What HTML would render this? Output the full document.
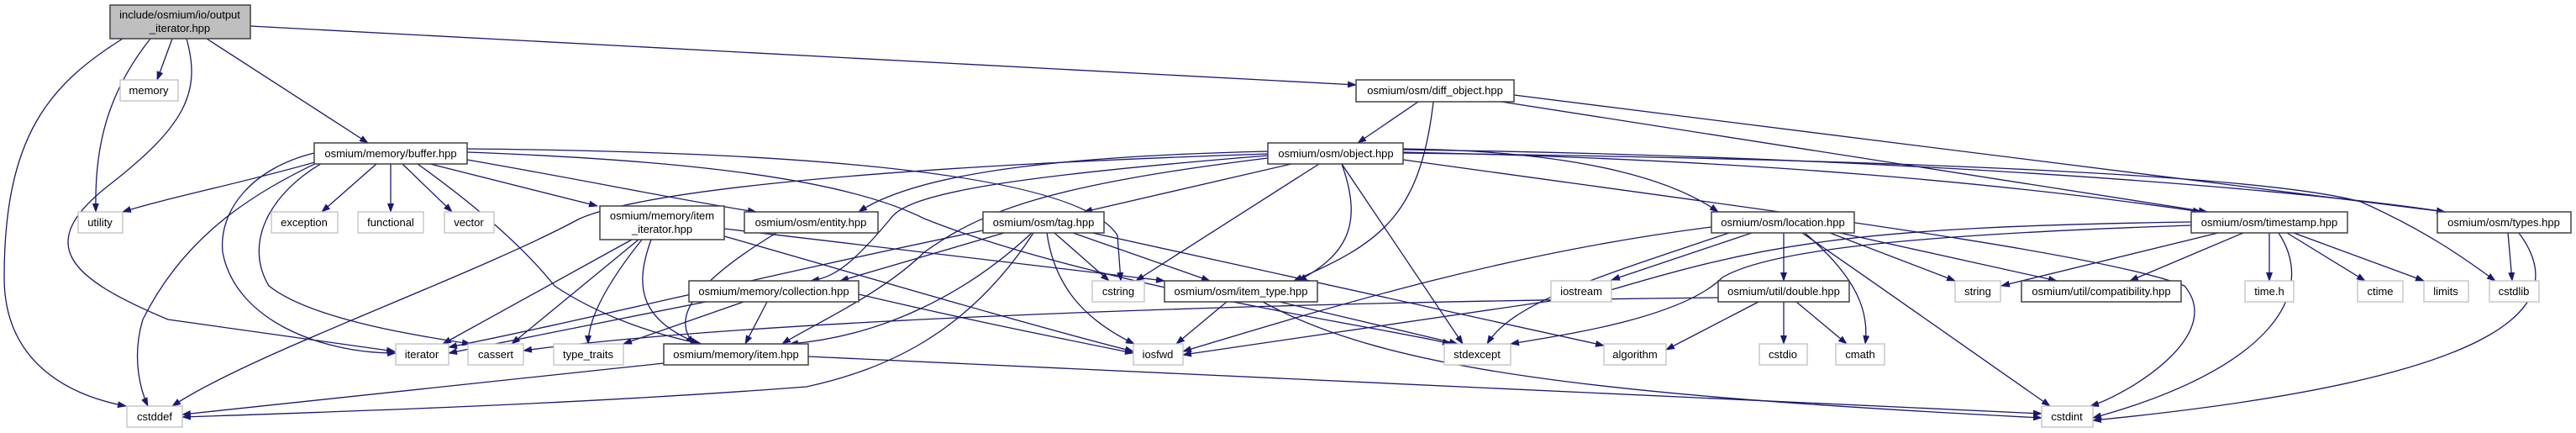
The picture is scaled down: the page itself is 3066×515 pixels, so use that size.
<!DOCTYPE html>
<html><head><meta charset="utf-8"><style>
html,body{margin:0;padding:0;background:#fff;}
svg{display:block;}
text{font-family:"Liberation Sans",sans-serif;font-size:13px;fill:#000;}
.e{fill:none;stroke:#191970;stroke-width:1.3;marker-end:url(#a);}
.n{fill:#fff;stroke:#404040;stroke-width:1.5;}
.g{fill:#fff;stroke:#c0c0c0;stroke-width:1.3;}
</style></head><body>
<svg width="3066" height="515" viewBox="0 0 3066 515" xmlns="http://www.w3.org/2000/svg">
<defs><marker id="a" markerWidth="11" markerHeight="8" refX="10" refY="4" orient="auto" markerUnits="userSpaceOnUse"><path d="M0,0 L11,4 L0,8 Z" fill="#191970"/></marker></defs>
<g>
<path class="e" d="M146,46 C60,100 5,160 5,330 C5,430 80,470 150,483"/>
<path class="e" d="M179,46 C120,120 113,190 114,252"/>
<path class="e" d="M205,46 L187,95"/>
<path class="e" d="M222,46 C240,110 220,150 130,220 C40,290 80,330 200,380 L470,418"/>
<path class="e" d="M246,46 L438,170"/>
<path class="e" d="M298,31 L1614,101"/>
<path class="e" d="M1688,121 L1616,170"/>
<path class="e" d="M1706,121 C1690,260 1640,290 1540,334"/>
<path class="e" d="M1787,121 L2627,252"/>
<path class="e" d="M1802,113 L2910,252"/>
<path class="e" d="M385,190 C300,215 200,235 146,252"/>
<path class="e" d="M448,195 L383,252"/>
<path class="e" d="M465,195 L465,252"/>
<path class="e" d="M479,195 L538,252"/>
<path class="e" d="M512,195 L711,245"/>
<path class="e" d="M556,190 C700,215 820,240 900,252"/>
<path class="e" d="M385,190 C300,230 220,280 170,380 C155,430 170,470 176,483"/>
<path class="e" d="M374,182 C300,200 260,250 265,300 C280,380 380,420 471,420"/>
<path class="e" d="M385,193 C320,230 290,290 320,340 C370,380 500,400 560,409"/>
<path class="e" d="M497,195 C560,240 620,290 660,340 C720,380 790,400 835,409"/>
<path class="e" d="M556,177 C900,180 1280,200 1330,280 L1334,334"/>
<path class="e" d="M556,181 C800,190 1000,210 1100,260 C1300,340 1650,390 1727,409"/>
<path class="e" d="M1509,180 C1300,185 1100,200 1022,252"/>
<path class="e" d="M1537,195 L1290,252"/>
<path class="e" d="M1509,185 C1200,210 1080,230 1060,260 C1010,320 990,330 965,334"/>
<path class="e" d="M1509,188 C1250,220 1170,250 1100,300 C1050,350 960,390 931,409"/>
<path class="e" d="M1509,183 C1000,200 760,230 690,260 C560,330 300,420 205,483"/>
<path class="e" d="M1570,195 L1352,334"/>
<path class="e" d="M1597,195 C1620,260 1610,300 1545,334"/>
<path class="e" d="M1597,195 L1741,409"/>
<path class="e" d="M1670,177 C1900,180 2000,220 2045,252"/>
<path class="e" d="M1670,181 C2100,190 2400,220 2620,252"/>
<path class="e" d="M1670,178 C2200,185 2700,220 2910,252"/>
<path class="e" d="M1670,182 C2300,190 2700,210 2810,240 C2900,280 2950,320 2970,334"/>
<path class="e" d="M1670,190 C2100,250 2500,300 2600,340 C2650,400 2530,470 2488,483"/>
<path class="e" d="M752,285 L527,409"/>
<path class="e" d="M760,285 L609,409"/>
<path class="e" d="M764,285 C720,340 700,380 700,409"/>
<path class="e" d="M775,285 C755,340 760,380 832,409"/>
<path class="e" d="M862,272 L1386,334"/>
<path class="e" d="M862,281 C1000,320 1200,380 1349,418"/>
<path class="e" d="M924,277 C820,340 800,380 826,409"/>
<path class="e" d="M1170,274 C900,330 700,380 534,413"/>
<path class="e" d="M1195,277 L1000,334"/>
<path class="e" d="M1228,277 C1150,350 1050,400 940,409"/>
<path class="e" d="M1230,277 C1150,400 1050,440 960,460 C700,480 400,490 217,496"/>
<path class="e" d="M1255,277 L1320,334"/>
<path class="e" d="M1277,277 L1440,334"/>
<path class="e" d="M1246,277 C1255,340 1290,380 1350,409"/>
<path class="e" d="M1300,277 L1909,411"/>
<path class="e" d="M840,359 L534,420"/>
<path class="e" d="M885,359 L742,409"/>
<path class="e" d="M913,359 L887,409"/>
<path class="e" d="M1022,350 C1150,380 1250,400 1349,420"/>
<path class="e" d="M1460,359 L1400,409"/>
<path class="e" d="M1523,359 L1735,409"/>
<path class="e" d="M1503,359 C1650,440 1900,470 2430,497"/>
<path class="e" d="M790,432 L217,493"/>
<path class="e" d="M962,424 L2430,492"/>
<path class="e" d="M2037,270 C1800,300 1600,360 1408,418"/>
<path class="e" d="M2058,277 C1900,330 1800,360 1770,409"/>
<path class="e" d="M2085,277 L1918,333"/>
<path class="e" d="M2123,277 L2123,334"/>
<path class="e" d="M2178,277 L2327,334"/>
<path class="e" d="M2190,277 L2448,334"/>
<path class="e" d="M2145,277 C2250,350 2380,440 2440,483"/>
<path class="e" d="M2148,277 C2210,330 2225,370 2220,409"/>
<path class="e" d="M2045,354 C1500,360 900,380 623,417"/>
<path class="e" d="M2123,359 L2123,409"/>
<path class="e" d="M2138,359 L2198,409"/>
<path class="e" d="M2093,359 L1983,416"/>
<path class="e" d="M2608,268 C2250,280 2100,300 2050,330 C2000,380 1850,400 1798,409"/>
<path class="e" d="M2608,264 C2200,270 2100,290 1900,350 L1408,422"/>
<path class="e" d="M2640,277 L2382,340"/>
<path class="e" d="M2670,277 L2535,334"/>
<path class="e" d="M2701,277 L2701,334"/>
<path class="e" d="M2712,277 C2760,350 2700,440 2491,497"/>
<path class="e" d="M2722,277 L2815,334"/>
<path class="e" d="M2730,277 L2885,334"/>
<path class="e" d="M2985,277 L2990,334"/>
<path class="e" d="M2998,277 C3060,360 3000,450 2491,500"/>
</g>
<g>
<rect x="131" y="6" width="167" height="40" fill="#bfbfbf" stroke="#404040" stroke-width="1.5"/>
<text x="214" y="22" text-anchor="middle">include/osmium/io/output</text>
<text x="214" y="38" text-anchor="middle">_iterator.hpp</text>

<rect class="g" x="143" y="95" width="69" height="25"/><text x="177" y="112" text-anchor="middle">memory</text>
<rect class="n" x="1614" y="95" width="188" height="26"/><text x="1708" y="112" text-anchor="middle">osmium/osm/diff_object.hpp</text>

<rect class="n" x="374" y="170" width="182" height="25"/><text x="465" y="187" text-anchor="middle">osmium/memory/buffer.hpp</text>
<rect class="n" x="1509" y="170" width="161" height="25"/><text x="1590" y="187" text-anchor="middle">osmium/osm/object.hpp</text>

<rect class="g" x="93" y="252" width="53" height="25"/><text x="119" y="269" text-anchor="middle">utility</text>
<rect class="g" x="323" y="252" width="79" height="25"/><text x="362" y="269" text-anchor="middle">exception</text>
<rect class="g" x="426" y="252" width="78" height="25"/><text x="465" y="269" text-anchor="middle">functional</text>
<rect class="g" x="529" y="252" width="59" height="25"/><text x="558" y="269" text-anchor="middle">vector</text>
<rect class="n" x="714" y="245" width="148" height="40"/><text x="788" y="261" text-anchor="middle">osmium/memory/item</text><text x="788" y="277" text-anchor="middle">_iterator.hpp</text>
<rect class="n" x="886" y="252" width="159" height="25"/><text x="965" y="269" text-anchor="middle">osmium/osm/entity.hpp</text>
<rect class="n" x="1170" y="252" width="144" height="25"/><text x="1242" y="269" text-anchor="middle">osmium/osm/tag.hpp</text>
<rect class="n" x="2037" y="252" width="170" height="25"/><text x="2122" y="269" text-anchor="middle">osmium/osm/location.hpp</text>
<rect class="n" x="2608" y="252" width="186" height="25"/><text x="2701" y="269" text-anchor="middle">osmium/osm/timestamp.hpp</text>
<rect class="n" x="2901" y="252" width="159" height="25"/><text x="2980" y="269" text-anchor="middle">osmium/osm/types.hpp</text>

<rect class="n" x="820" y="334" width="202" height="25"/><text x="921" y="351" text-anchor="middle">osmium/memory/collection.hpp</text>
<rect class="g" x="1300" y="334" width="62" height="25"/><text x="1331" y="351" text-anchor="middle">cstring</text>
<rect class="n" x="1386" y="334" width="182" height="25"/><text x="1477" y="351" text-anchor="middle">osmium/osm/item_type.hpp</text>
<rect class="g" x="1846" y="334" width="72" height="25"/><text x="1882" y="351" text-anchor="middle">iostream</text>
<rect class="n" x="2045" y="334" width="156" height="25"/><text x="2123" y="351" text-anchor="middle">osmium/util/double.hpp</text>
<rect class="g" x="2327" y="334" width="54" height="25"/><text x="2354" y="351" text-anchor="middle">string</text>
<rect class="n" x="2406" y="334" width="190" height="25"/><text x="2501" y="351" text-anchor="middle">osmium/util/compatibility.hpp</text>
<rect class="g" x="2672" y="334" width="58" height="25"/><text x="2701" y="351" text-anchor="middle">time.h</text>
<rect class="g" x="2806" y="334" width="54" height="25"/><text x="2833" y="351" text-anchor="middle">ctime</text>
<rect class="g" x="2885" y="334" width="53" height="25"/><text x="2911" y="351" text-anchor="middle">limits</text>
<rect class="g" x="2963" y="334" width="59" height="25"/><text x="2992" y="351" text-anchor="middle">cstdlib</text>

<rect class="g" x="471" y="409" width="63" height="25"/><text x="502" y="426" text-anchor="middle">iterator</text>
<rect class="g" x="557" y="409" width="66" height="25"/><text x="590" y="426" text-anchor="middle">cassert</text>
<rect class="g" x="659" y="409" width="83" height="25"/><text x="700" y="426" text-anchor="middle">type_traits</text>
<rect class="n" x="790" y="409" width="172" height="25"/><text x="876" y="426" text-anchor="middle">osmium/memory/item.hpp</text>
<rect class="g" x="1349" y="409" width="59" height="25"/><text x="1378" y="426" text-anchor="middle">iosfwd</text>
<rect class="g" x="1719" y="409" width="79" height="25"/><text x="1758" y="426" text-anchor="middle">stdexcept</text>
<rect class="g" x="1909" y="409" width="74" height="25"/><text x="1946" y="426" text-anchor="middle">algorithm</text>
<rect class="g" x="2094" y="409" width="57" height="25"/><text x="2122" y="426" text-anchor="middle">cstdio</text>
<rect class="g" x="2185" y="409" width="58" height="25"/><text x="2214" y="426" text-anchor="middle">cmath</text>

<rect class="g" x="151" y="483" width="66" height="25"/><text x="184" y="500" text-anchor="middle">cstddef</text>
<rect class="g" x="2430" y="483" width="61" height="25"/><text x="2460" y="500" text-anchor="middle">cstdint</text>
</g>
</svg>
</body></html>
